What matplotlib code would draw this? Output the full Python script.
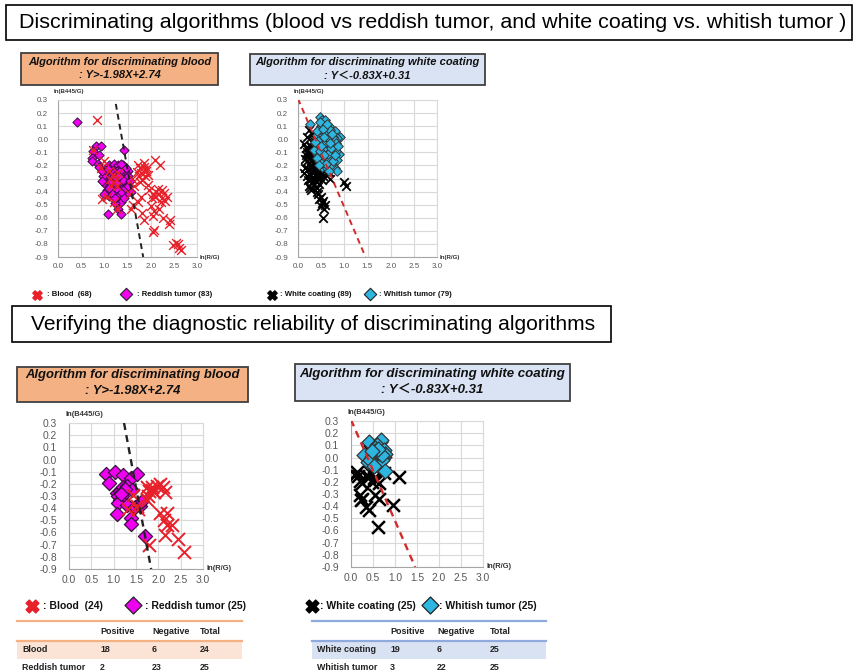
import matplotlib
matplotlib.use("Agg")
import matplotlib.pyplot as plt
from matplotlib.patches import Rectangle

plt.rcParams['font.family'] = ['Liberation Sans', 'DejaVu Sans']

W, H = 855, 672

# ---------------- data ----------------
x_ticks = [0.0, 0.5, 1.0, 1.5, 2.0, 2.5, 3.0]
y_ticks = [-0.9, -0.8, -0.7, -0.6, -0.5, -0.4, -0.3, -0.2, -0.1, 0.0, 0.1, 0.2, 0.3]

# training set: blood (68) vs reddish tumor (83)
blood_x = [0.85, 0.75, 1.00, 0.93, 1.10, 1.18, 1.25, 1.20, 1.15, 1.28, 1.12, 1.30, 1.05, 1.21,
           1.28, 0.95, 1.72, 1.78, 1.85, 1.90, 1.80, 1.75, 1.88, 1.82, 1.93, 1.70, 1.86, 1.95,
           1.77, 2.09, 2.20, 1.60, 1.65, 1.55, 1.62, 1.58, 1.97, 2.05, 2.10, 2.18, 2.25, 2.29,
           2.35, 2.15, 2.22, 2.02, 2.30, 2.12, 1.79, 1.72, 2.00, 2.08, 2.04, 2.26, 1.86, 1.82,
           2.08, 2.06, 2.42, 2.40, 2.54, 2.49, 2.62, 2.58, 2.65, 2.18, 1.94, 2.25]
blood_y = [0.15, -0.08, -0.17, -0.22, -0.24, -0.27, -0.30, -0.33, -0.36, -0.36, -0.30, -0.26,
           -0.44, -0.48, -0.53, -0.46, -0.20, -0.22, -0.21, -0.24, -0.26, -0.28, -0.28, -0.31,
           -0.22, -0.25, -0.18, -0.27, -0.33, -0.16, -0.20, -0.30, -0.36, -0.42, -0.50, -0.53,
           -0.39, -0.42, -0.44, -0.42, -0.45, -0.41, -0.44, -0.38, -0.48, -0.45, -0.47, -0.40,
           -0.44, -0.48, -0.51, -0.55, -0.59, -0.60, -0.62, -0.56, -0.69, -0.71, -0.62, -0.65,
           -0.79, -0.81, -0.83, -0.80, -0.85, -0.53, -0.35, -0.39]

red_tumor_x = [0.42, 0.81, 0.93, 0.75, 0.88, 0.73, 0.73, 0.86, 0.89, 1.42, 1.40, 1.50, 1.58,
               1.47, 1.36, 1.11, 1.24, 1.29, 1.35, 1.07,
               1.05, 1.10, 1.15, 1.20, 1.25, 1.30, 1.35, 1.40, 1.45,
               1.00, 1.05, 1.10, 1.15, 1.22, 1.28, 1.33, 1.38, 1.43,
               1.02, 1.08, 1.12, 1.18, 1.24, 1.30, 1.36, 1.41, 1.48,
               1.04, 1.09, 1.14, 1.20, 1.26, 1.32, 1.38, 1.45,
               1.06, 1.12, 1.17, 1.23, 1.29, 1.35,
               0.98, 0.95, 1.52, 1.50, 1.46, 1.18, 1.27, 1.13, 1.21, 1.33, 1.40,
               1.16, 1.28, 1.42, 1.00, 1.55, 1.08, 1.36, 0.95, 1.24, 1.11, 1.31]
red_tumor_y = [0.13, -0.05, -0.05, -0.09, -0.12, -0.14, -0.17, -0.19, -0.21, -0.08, -0.20, -0.24,
               -0.40, -0.42, -0.48, -0.43, -0.49, -0.53, -0.57, -0.57,
               -0.22, -0.20, -0.21, -0.19, -0.22, -0.20, -0.21, -0.23, -0.25,
               -0.25, -0.27, -0.26, -0.25, -0.26, -0.24, -0.27, -0.28, -0.30,
               -0.30, -0.32, -0.29, -0.31, -0.30, -0.31, -0.33, -0.35, -0.33,
               -0.35, -0.36, -0.34, -0.36, -0.35, -0.37, -0.38, -0.37,
               -0.39, -0.40, -0.38, -0.40, -0.39, -0.41,
               -0.28, -0.24, -0.28, -0.36, -0.22, -0.24, -0.33, -0.33, -0.28, -0.24, -0.31,
               -0.42, -0.44, -0.45, -0.42, -0.32, -0.23, -0.19, -0.32, -0.45, -0.37, -0.28]

# training set: white coating (89) vs whitish tumor (79)
coat_x = [0.13, 0.24, 0.20, 0.30, 0.35, 0.40, 0.18, 0.25, 0.32, 0.38, 0.45, 0.22, 0.28, 0.35,
          0.42, 0.50, 0.55, 0.15, 0.20, 0.27, 0.33, 0.40, 0.47, 0.53, 0.60, 0.65, 0.16, 0.22,
          0.29, 0.36, 0.43, 0.50, 0.57, 0.63, 0.20, 0.26, 0.33, 0.38, 0.44, 0.36, 0.41, 0.48,
          0.52, 0.70, 0.66, 0.25, 0.28, 0.23, 0.30, 0.45, 0.49, 0.52, 0.49, 0.56, 0.53, 0.46,
          0.54, 1.00, 1.03, 0.70, 0.58, 0.31, 0.37, 0.19, 0.42, 0.34, 0.27, 0.58, 0.40, 0.62,
          0.46, 0.24, 0.14, 0.55, 0.30, 0.39, 0.48, 0.17, 0.60, 0.33, 0.44, 0.51, 0.26, 0.36,
          0.21, 0.43, 0.29, 0.57, 0.66]
coat_y = [-0.04, 0.07, 0.02, 0.04, -0.01, 0.02, -0.07, -0.05, -0.08, -0.06, -0.04, -0.11, -0.12,
          -0.13, -0.10, -0.12, -0.09, -0.15, -0.17, -0.16, -0.18, -0.17, -0.15, -0.17, -0.15, -0.13,
          -0.22, -0.23, -0.21, -0.22, -0.24, -0.22, -0.24, -0.20, -0.28, -0.27, -0.26, -0.28, -0.30,
          -0.31, -0.27, -0.28, -0.31, -0.30, -0.25, -0.37, -0.39, -0.36, -0.33, -0.34, -0.44, -0.49,
          -0.51, -0.53, -0.47, -0.46, -0.60, -0.33, -0.36, -0.05, -0.03, -0.02, -0.20, -0.10, -0.37,
          -0.35, -0.30, -0.50, -0.40, -0.07, -0.20, -0.19, -0.26, -0.28, -0.24, -0.14, -0.08, -0.12,
          -0.18, -0.29, -0.22, -0.26, -0.09, 0.00, -0.31, -0.42, -0.05, -0.20, -0.17]

wh_tumor_x = [0.26, 0.47, 0.52, 0.56, 0.50, 0.60, 0.45, 0.55, 0.65, 0.70, 0.62, 0.80, 0.90, 0.85,
              0.75, 0.58, 0.48, 0.42, 0.68, 0.53, 0.72, 0.60, 0.45, 0.38, 0.65, 0.78, 0.55, 0.40,
              0.70, 0.88, 0.62, 0.50, 0.75, 0.45, 0.58, 0.85, 0.68, 0.80, 0.85, 0.52, 0.63, 0.35,
              0.50, 0.57, 0.66, 0.73, 0.44, 0.61, 0.78, 0.54, 0.67, 0.72, 0.47, 0.82, 0.59, 0.64,
              0.76, 0.69, 0.50, 0.42, 0.58, 0.64, 0.71, 0.48, 0.56, 0.83, 0.40, 0.66, 0.74, 0.61,
              0.53, 0.45, 0.79, 0.87, 0.57, 0.68, 0.62, 0.50, 0.36]
wh_tumor_y = [0.12, 0.17, 0.15, 0.13, 0.10, 0.09, 0.08, 0.06, 0.07, 0.05, 0.03, 0.06, 0.02, 0.01,
              0.02, 0.00, 0.01, 0.03, -0.01, -0.03, -0.04, -0.05, -0.06, -0.04, -0.08, -0.07, -0.10,
              -0.11, -0.11, -0.11, -0.13, -0.14, -0.14, -0.17, -0.17, -0.16, -0.18, -0.22, -0.24,
              -0.21, -0.22, -0.08, 0.05, -0.07, 0.10, -0.01, -0.01, -0.02, 0.00, 0.11, -0.15, -0.20,
              -0.09, -0.09, 0.04, -0.11, -0.17, 0.07, -0.18, -0.14, 0.15, 0.01, -0.07, 0.13, -0.12,
              -0.03, 0.06, -0.24, 0.04, -0.19, 0.08, -0.20, -0.12, -0.05, 0.02, -0.03, 0.12, -0.05,
              -0.02]

# validation set: blood (24) vs reddish tumor (25)
v_blood_x = [1.44, 1.33, 1.52, 1.55, 1.74, 1.80, 1.85, 1.77, 1.74, 1.97, 2.03, 2.10, 2.15, 1.90,
             2.03, 2.19, 2.12, 2.19, 2.30, 2.15, 2.45, 2.57, 1.80, 1.86]
v_blood_y = [-0.29, -0.41, -0.38, -0.41, -0.23, -0.26, -0.23, -0.30, -0.33, -0.22, -0.20, -0.23,
             -0.27, -0.27, -0.44, -0.44, -0.50, -0.54, -0.54, -0.62, -0.65, -0.76, -0.70, -0.25]
v_red_x = [0.83, 1.03, 1.20, 1.38, 1.52, 0.90, 1.07, 1.14, 1.22, 1.30, 1.40, 1.18, 1.10, 1.14,
           1.09, 1.30, 1.08, 1.39, 1.38, 1.48, 1.58, 1.63, 1.70, 1.25, 1.16]
v_red_y = [-0.12, -0.10, -0.13, -0.15, -0.12, -0.19, -0.275, -0.26, -0.23, -0.22, -0.25, -0.30,
           -0.30, -0.33, -0.36, -0.37, -0.45, -0.48, -0.53, -0.39, -0.38, -0.34, -0.63, -0.24, -0.28]

# validation set: white coating (25) vs whitish tumor (25)
v_coat_x = [0.44, 0.14, 0.17, 0.10, 0.21, 0.25, 0.40, 0.52, 0.48, 0.55, 0.63, 0.74, 1.08, 0.21,
            0.25, 0.23, 0.33, 0.40, 0.55, 0.63, 0.95, 0.61, 0.33, 0.60, 0.44]
v_coat_y = [0.056, -0.12, -0.15, -0.145, -0.19, -0.21, -0.16, -0.17, -0.20, -0.185, -0.21, -0.13,
            -0.16, -0.31, -0.34, -0.35, -0.41, -0.43, -0.31, -0.34, -0.39, -0.57, -0.15, -0.07, -0.12]
v_wh_x = [0.42, 0.65, 0.68, 0.59, 0.55, 0.74, 0.30, 0.48, 0.58, 0.65, 0.76, 0.78, 0.50, 0.58,
          0.63, 0.70, 0.38, 0.44, 0.77, 0.55, 0.63, 0.52, 0.70, 0.61, 0.48]
v_wh_y = [0.13, 0.13, 0.14, 0.10, 0.075, 0.06, 0.02, 0.006, 0.005, 0.005, 0.005, 0.025, -0.05,
          -0.06, -0.03, -0.02, -0.035, -0.02, -0.11, 0.05, 0.04, -0.07, 0.02, 0.07, 0.05]

# discriminating lines  Y = a*X + b
blood_a, blood_b = -1.98, 2.74
white_a, white_b = -0.83, 0.31

table_cols = ["Positive", "Negative", "Total"]
blood_rows = [["Blood", 18, 6, 24], ["Reddish tumor", 2, 23, 25]]
white_rows = [["White coating", 19, 6, 25], ["Whitish tumor", 3, 22, 25]]

RED = "#E8202A"
MAGENTA = "#F000F0"
CYAN = "#2DB6E0"
ORANGE_BOX = "#F4B183"
BLUE_BOX = "#DAE3F3"
CJK = ["Liberation Sans", "Noto Sans CJK JP"]

fig = plt.figure(figsize=(W / 100, H / 100), dpi=100)

# overlay in pixel coordinates for boxes, legends and tables
ov = fig.add_axes([0, 0, 1, 1])
ov.set_xlim(0, W)
ov.set_ylim(H, 0)
ov.axis("off")


def box(x0, y0, x1, y1, fc="white", ec="black", lw=1.2):
    ov.add_patch(Rectangle((x0, y0), x1 - x0, y1 - y0, fc=fc, ec=ec, lw=lw))


def make_axes(l, t, r, b):
    return fig.add_axes([l / W, 1 - b / H, (r - l) / W, (b - t) / H])


def style_axes(ax, fs, ypad, xpad):
    ax.set_xlim(0, 3)
    ax.set_ylim(-0.9, 0.3)
    ax.set_xticks(x_ticks)
    ax.set_yticks(y_ticks)
    ax.set_xticklabels([f"{v:.1f}" for v in x_ticks])
    ax.set_yticklabels([f"{v:.1f}" for v in y_ticks])
    ax.grid(True, color="#d9d9d9", lw=0.8)
    ax.set_axisbelow(True)
    for s in ax.spines.values():
        s.set_color("#d9d9d9")
        s.set_linewidth(0.8)
    ax.spines["left"].set_color("#a6a6a6")
    ax.spines["bottom"].set_color("#a6a6a6")
    ax.tick_params(axis="y", length=0, labelsize=fs, colors="#595959", pad=ypad)
    ax.tick_params(axis="x", length=0, labelsize=fs, colors="#595959", pad=xpad)


# ---------------- titles ----------------
box(6, 5, 852, 40)
ov.text(19, 22.5, "Discriminating algorithms (blood vs reddish tumor, and white coating vs. whitish tumor )",
        fontsize=15.45, va="center", ha="left")
box(12, 306, 611, 342)
ov.text(31, 324, "Verifying the diagnostic reliability of discriminating algorithms",
        fontsize=15.1, va="center", ha="left")

# ---------------- sub titles ----------------
sub = dict(ha="center", va="center", fontweight="bold", fontstyle="italic", color="#111111",
           family=CJK)
box(21, 53, 218, 85, fc=ORANGE_BOX, ec="#404040", lw=1.3)
ov.text(119.5, 62, "Algorithm for discriminating blood", fontsize=8.0, **sub)
ov.text(119.5, 75.5, ": Y>-1.98X+2.74", fontsize=8.0, **sub)
box(250, 54, 485, 85, fc=BLUE_BOX, ec="#404040", lw=1.3)
ov.text(367.5, 62, "Algorithm for discriminating white coating", fontsize=8.0, **sub)
ov.text(367.5, 75.5, ": Y\uff1c-0.83X+0.31", fontsize=8.0, **sub)
box(17, 367, 248, 402, fc=ORANGE_BOX, ec="#404040", lw=1.3)
ov.text(132.5, 375, "Algorithm for discriminating blood", fontsize=9.4, **sub)
ov.text(132.5, 390.5, ": Y>-1.98X+2.74", fontsize=9.4, **sub)
box(295, 364, 570, 401, fc=BLUE_BOX, ec="#404040", lw=1.3)
ov.text(432.5, 373.5, "Algorithm for discriminating white coating", fontsize=9.5, **sub)
ov.text(432.5, 390, ": Y\uff1c-0.83X+0.31", fontsize=9.5, **sub)

# ---------------- scatter panels ----------------
panels = [
    # (l, t, r, b), series, line, fs, ypad, xpad, marker sizes
    ((58, 100, 197, 257), (blood_x, blood_y, red_tumor_x, red_tumor_y), "blood", 5.8, 7, 4, (40, 22)),
    ((298, 100, 437, 257), (coat_x, coat_y, wh_tumor_x, wh_tumor_y), "white", 5.8, 7, 4, (38, 24)),
    ((69, 423, 203, 569), (v_blood_x, v_blood_y, v_red_x, v_red_y), "blood", 7.4, 8.5, 4.5, (88, 52)),
    ((351, 421, 483, 567), (v_coat_x, v_coat_y, v_wh_x, v_wh_y), "white", 7.4, 8.5, 4.5, (85, 58)),
]

for (l, t, r, b), (xa, ya, xb, yb), kind, fs, ypad, xpad, (sx, sd) in panels:
    ax = make_axes(l, t, r, b)
    style_axes(ax, fs, ypad, xpad)
    big = fs > 6
    if kind == "blood":
        ax.scatter(xb, yb, marker="D", s=sd, c=MAGENTA, edgecolors="#3a1040",
                   linewidths=0.9 if big else 0.7, zorder=3)
        ax.scatter(xa, ya, marker="x", s=sx, c=RED, linewidths=1.4 if big else 1.0, zorder=4)
        y_top = 0.3 if big else 0.27
        xs = [(blood_b - y_top) / -blood_a, (blood_b + 0.9) / -blood_a]
        ax.plot(xs, [blood_a * v + blood_b for v in xs], color="#222222", lw=1.7 if big else 1.4,
                dashes=(3, 2.2), zorder=5)
    else:
        ax.scatter(xa, ya, marker="x", s=sx, c="black", linewidths=1.8 if big else 1.3, zorder=3)
        ax.scatter(xb, yb, marker="D", s=sd, c=CYAN, edgecolors="#333333",
                   linewidths=0.9 if big else 0.7, zorder=4)
        xs = [0.0, (white_b + 0.9) / -white_a]
        ax.plot(xs, [white_a * v + white_b for v in xs], color="#D42A2A", lw=1.7 if big else 1.4,
                dashes=(3, 2.2), zorder=5)
    lab_fs = 5.4 if big else 4.4
    ov.text(l - 4, t - 8, "ln(B445/G)", fontsize=lab_fs, fontweight="bold", color="#333333",
            ha="left", va="center")
    ov.text(r + 3, b, "ln(R/G)", fontsize=lab_fs, fontweight="bold", color="#333333",
            ha="left", va="center")

# ---------------- legends ----------------
leg = dict(ha="left", va="center", fontweight="bold", color="#111111")
ov.scatter([37], [295], marker="X", s=45, c=RED, edgecolors=RED)
ov.text(47, 295, ": Blood  (68)", fontsize=5.6, **leg)
ov.scatter([126], [294], marker="D", s=40, c=MAGENTA, edgecolors="#222222", linewidths=0.8)
ov.text(137, 295, ": Reddish tumor (83)", fontsize=5.6, **leg)
ov.scatter([272], [295], marker="X", s=45, c="black")
ov.text(280, 295, ": White coating (89)", fontsize=5.6, **leg)
ov.scatter([370], [294], marker="D", s=40, c=CYAN, edgecolors="#222222", linewidths=0.8)
ov.text(379, 295, ": Whitish tumor (79)", fontsize=5.6, **leg)

ov.scatter([32], [606], marker="X", s=85, c=RED, edgecolors=RED)
ov.text(43, 606, ": Blood  (24)", fontsize=7.5, **leg)
ov.scatter([133], [605], marker="D", s=75, c=MAGENTA, edgecolors="#222222", linewidths=0.9)
ov.text(145, 606, ": Reddish tumor (25)", fontsize=7.5, **leg)
ov.scatter([312], [606], marker="X", s=85, c="black")
ov.text(320, 606, ": White coating (25)", fontsize=7.5, **leg)
ov.scatter([430], [605], marker="D", s=75, c=CYAN, edgecolors="#222222", linewidths=0.9)
ov.text(439, 606, ": Whitish tumor (25)", fontsize=7.5, **leg)


# ---------------- tables ----------------
def draw_table(x0, x1, col_x, rows, line_c, fill_c):
    ov.add_patch(Rectangle((x0, 641), x1 - x0, 18, fc=fill_c, ec="none"))
    ov.plot([x0, x1], [621, 621], color=line_c, lw=1.6)
    ov.plot([x0, x1], [641, 641], color=line_c, lw=1.6)
    tf = dict(fontsize=6.4, fontweight="bold", color="#222222", ha="left", va="center")
    for cx, c in zip(col_x[1:], table_cols):
        ov.text(cx, 631, c, **tf)
    for ry, row in zip([650, 667], rows):
        for cx, v in zip(col_x, row):
            ov.text(cx, ry, str(v), **tf)


draw_table(17, 242, [22, 100, 152, 200], blood_rows, "#F4B183", "#FBE4D5")
draw_table(312, 546, [317, 390, 437, 490], white_rows, "#8FAADC", "#D9E2F3")

fig.savefig("out.png", dpi=100)
